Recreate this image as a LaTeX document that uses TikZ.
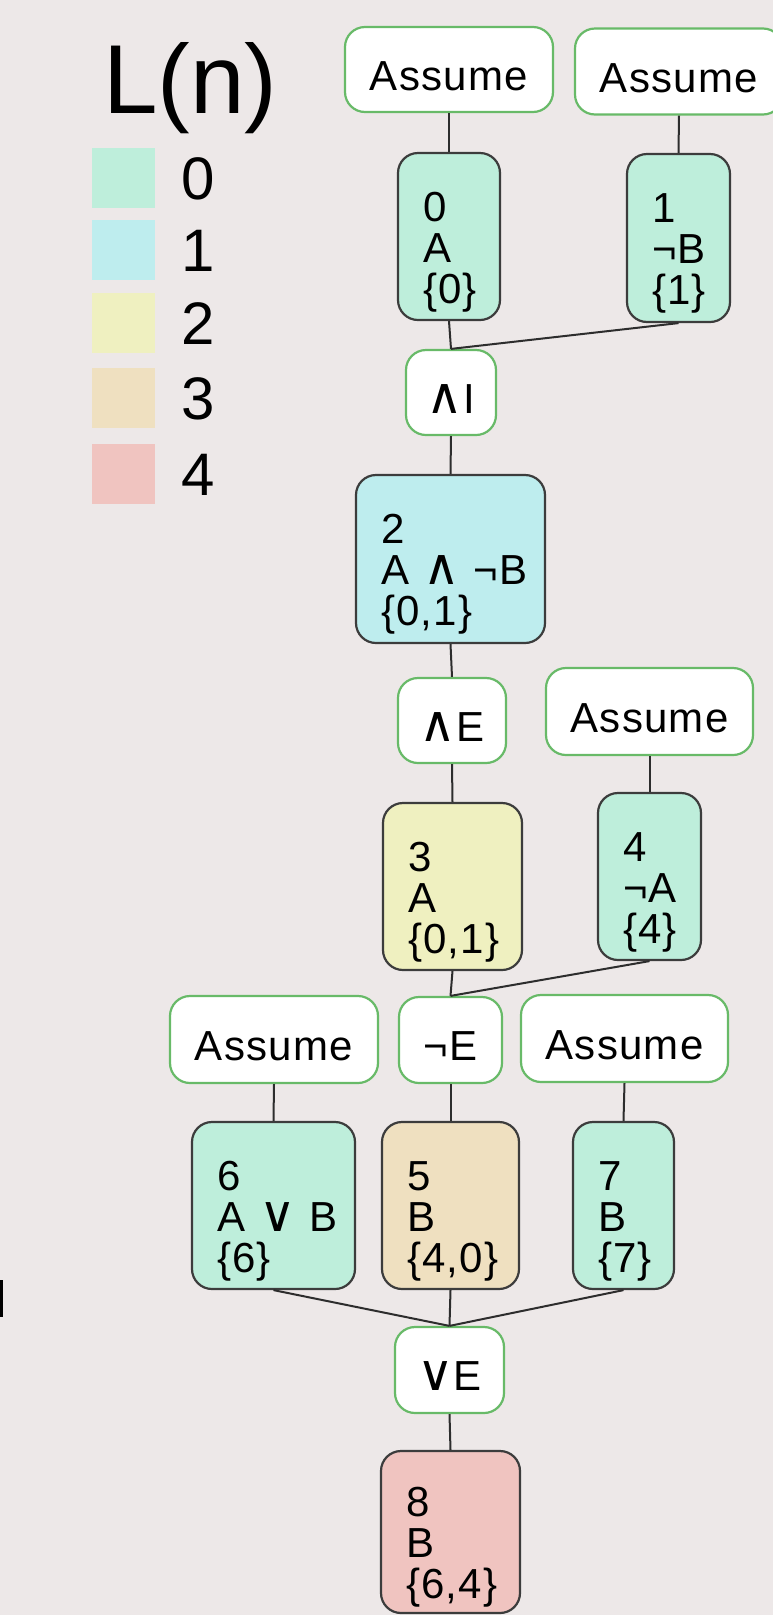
\documentclass[tikz,border=0pt]{standalone}
\usepackage{fontspec}
\setmainfont{Liberation Sans}
\newfontfamily\nodefont[LetterSpace=3]{Liberation Sans}
\newfontfamily\symf{DejaVu Sans}
\newcommand\myand{{\symf\fontsize{50}{41}\selectfont ∧}}
\newcommand\myor{{\symf\fontsize{50}{41}\selectfont ∨}}
\newcommand\tlines[3]{\rule{0pt}{60pt}#1\\\mbox{#2}\\\mbox{#3}}
\definecolor{bg}{RGB}{237,232,232}
\definecolor{cz}{RGB}{190,238,219}
\definecolor{co}{RGB}{190,237,238}
\definecolor{ct}{RGB}{239,240,192}
\definecolor{ch}{RGB}{239,224,192}
\definecolor{cf}{RGB}{240,196,192}
\definecolor{gborder}{RGB}{104,186,104}
\definecolor{dborder}{RGB}{60,60,60}
\definecolor{lin}{RGB}{45,45,45}
\tikzset{
  wbox/.style={draw=gborder, fill=white, line width=2.2pt, rounded corners=20pt,
    inner sep=0pt, text height=41pt, text depth=0pt,
    font=\nodefont\fontsize{42}{42}\selectfont},
  cbox/.style={draw=dborder, line width=2.2pt, rounded corners=20pt,
    inner xsep=25pt, inner ysep=0pt, align=left,
    font=\nodefont\fontsize{42}{41}\selectfont},
  conn/.style={draw=lin, line width=2pt},
  legsq/.style={draw=none, inner sep=0pt, minimum width=63pt, minimum height=60pt},
  legnum/.style={inner sep=0pt, anchor=base west, font=\fontsize{60}{60}\selectfont},
}
\begin{document}
\begin{tikzpicture}[x=1pt,y=-1pt]
\useasboundingbox (0,0) rectangle (773,1615);
\clip (0,0) rectangle (773,1615);
\fill[bg] (0,0) rectangle (773,1615);
\fill[black] (0,1280) rectangle (3,1317);

% legend
\node[inner sep=0pt, anchor=base west, font=\fontsize{98}{98}\selectfont] (title) at (103,113) {L(n)};
\node[legsq, fill=cz] (s0) at (123.5,178) {};
\node[legsq, fill=co] (s1) at (123.5,250) {};
\node[legsq, fill=ct] (s2) at (123.5,322.5) {};
\node[legsq, fill=ch] (s3) at (123.5,397.5) {};
\node[legsq, fill=cf] (s4) at (123.5,474) {};
\node[legnum] (d0) at (181,199.5) {0};
\node[legnum] (d1) at (181,271.5) {1};
\node[legnum] (d2) at (181,344) {2};
\node[legnum] (d3) at (181,419) {3};
\node[legnum] (d4) at (181,495.5) {4};

% rule boxes
\node[wbox, minimum width=208pt, minimum height=85pt] (a1) at (449,69.5) {Assume};
\node[wbox, minimum width=208pt, minimum height=86pt] (a2) at (679,71.5) {Assume};
\node[wbox, minimum width=90pt, minimum height=85pt] (andI) at (451,392.5) {\myand I};
\node[wbox, minimum width=108pt, minimum height=85pt] (andE) at (452,720.5) {\myand E};
\node[wbox, minimum width=207pt, minimum height=87pt] (a3) at (649.5,711.5) {Assume};
\node[wbox, minimum width=103pt, minimum height=86pt] (negE) at (450.5,1040) {¬E};
\node[wbox, minimum width=208pt, minimum height=87pt] (a4) at (274,1039.5) {Assume};
\node[wbox, minimum width=207pt, minimum height=87pt] (a5) at (624.5,1038.5) {Assume};
\node[wbox, minimum width=109pt, minimum height=86pt] (orE) at (449.5,1370) {\myor E};

% formula boxes
\node[cbox, fill=cz, text width=52pt, minimum height=167pt] (n0) at (449,236.5) {\tlines{0}{A}{\{0\}}};
\node[cbox, fill=cz, text width=53pt, minimum height=168pt] (n1) at (678.5,238) {\tlines{1}{¬B}{\{1\}}};
\node[cbox, fill=co, text width=139pt, minimum height=168pt] (n2) at (450.5,559) {\tlines{2}{A \myand{} ¬B}{\{0,1\}}};
\node[cbox, fill=ct, text width=89pt, minimum height=167pt] (n3) at (452.5,886.5) {\tlines{3}{A}{\{0,1\}}};
\node[cbox, fill=cz, text width=53pt, minimum height=167pt] (n4) at (649.5,876.5) {\tlines{4}{¬A}{\{4\}}};
\node[cbox, fill=cz, text width=113pt, minimum height=167pt] (n6) at (273.5,1205.5) {\tlines{6}{A \myor{} B}{\{6\}}};
\node[cbox, fill=ch, text width=87pt, minimum height=167pt] (n5) at (450.5,1205.5) {\tlines{5}{B}{\{4,0\}}};
\node[cbox, fill=cz, text width=51pt, minimum height=167pt] (n7) at (623.5,1205.5) {\tlines{7}{B}{\{7\}}};
\node[cbox, fill=cf, text width=89pt, minimum height=162pt] (n8) at (450.5,1532) {\tlines{8}{B}{\{6,4\}}};

% connectors
\draw[conn] (a1.south) -- (n0.north);
\draw[conn] (a2.south) -- (n1.north);
\draw[conn] (n0.south) -- (andI.north);
\draw[conn] (n1.south) -- (andI.north);
\draw[conn] (andI.south) -- (n2.north);
\draw[conn] (n2.south) -- (andE.north);
\draw[conn] (andE.south) -- (n3.north);
\draw[conn] (a3.south) -- (n4.north);
\draw[conn] (n3.south) -- (negE.north);
\draw[conn] (n4.south) -- (negE.north);
\draw[conn] (a4.south) -- (n6.north);
\draw[conn] (negE.south) -- (n5.north);
\draw[conn] (a5.south) -- (n7.north);
\draw[conn] (n6.south) -- (orE.north);
\draw[conn] (n5.south) -- (orE.north);
\draw[conn] (n7.south) -- (orE.north);
\draw[conn] (orE.south) -- (n8.north);
\end{tikzpicture}
\end{document}
